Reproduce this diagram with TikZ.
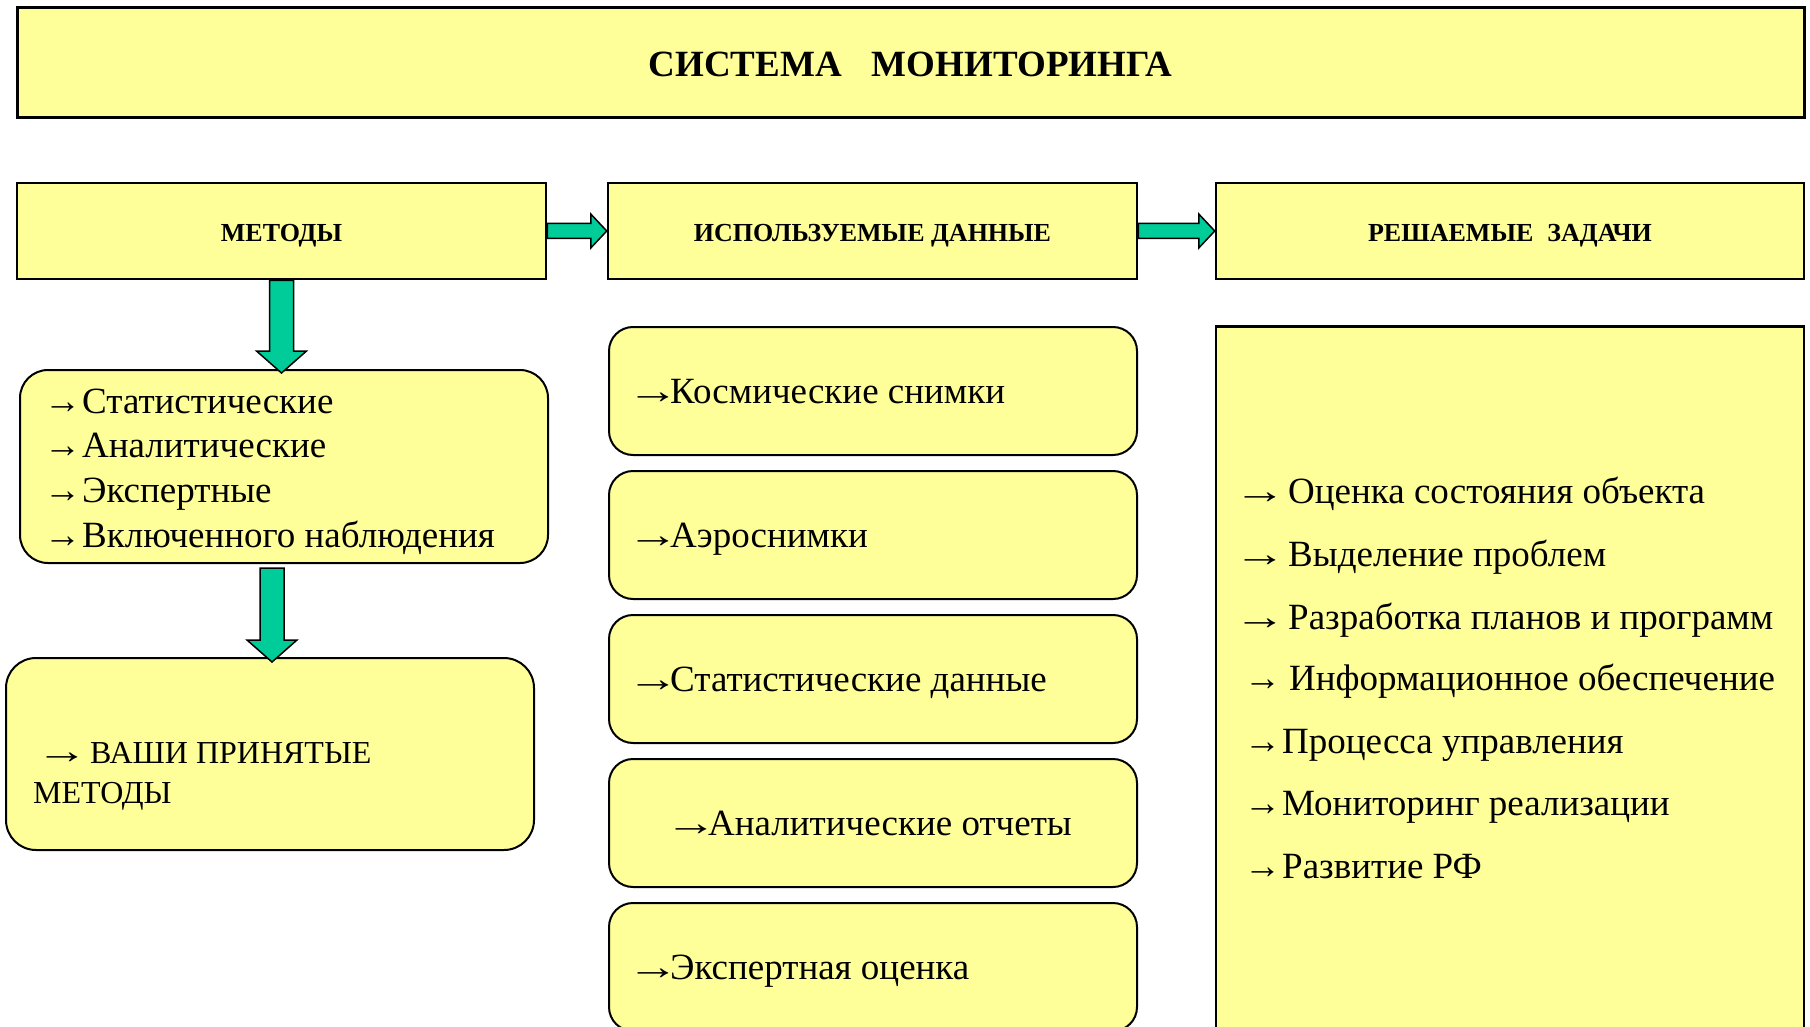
\documentclass[tikz,border=0pt]{standalone}
\usepackage{fontspec}
\usepackage{graphicx}
\setmainfont{Liberation Serif}
\usetikzlibrary{calc}
\definecolor{boxyellow}{RGB}{255,255,153}
\definecolor{arrgreen}{RGB}{0,204,153}
\newcommand\barr{{\fontsize{37}{44}\selectfont\scalebox{1.4}[1]{→}}}
\newcommand\harr[2]{\draw[blk] let \p1=(#1), \p2=(#2) in (\x1,\y1-7.5pt) -- (\x2-16pt,\y1-7.5pt) -- (\x2-16pt,\y1-17pt) -- (\x2,\y1) -- (\x2-16pt,\y1+17pt) -- (\x2-16pt,\y1+7.5pt) -- (\x1,\y1+7.5pt) -- cycle;}
\newcommand\varr[2]{\draw[blk] let \p1=(#1), \p2=(#2) in (\x2-12pt,\y1) -- (\x2-12pt,\y2+22pt) -- (\x2-25pt,\y2+22pt) -- (\x2,\y2) -- (\x2+25pt,\y2+22pt) -- (\x2+12pt,\y2+22pt) -- (\x2+12pt,\y1) -- cycle;}
\begin{document}
\begin{tikzpicture}[x=1pt,y=-1pt,
  hdr/.style={draw, line width=2.5pt, fill=boxyellow, inner sep=0pt, text height=20pt, text depth=0pt, font=\bfseries\fontsize{26}{30}\selectfont},
  rbox/.style={draw, line width=2pt, fill=boxyellow, inner sep=0pt, rounded corners=24pt, minimum width=528pt},
  ltxt/.style={anchor=base west, inner sep=0pt, font=\fontsize{37}{44}\selectfont},
  blk/.style={draw=black, line width=1.5pt, fill=arrgreen, line join=miter},
]
\clip (0,0) rectangle (1810,1027);
\fill[white] (0,0) rectangle (1810,1027);

% title
\node[hdr, line width=3pt, minimum width=1787pt, minimum height=110pt, text height=27pt, font=\bfseries\fontsize{37}{44}\selectfont] (title) at (910.5,63) {СИСТЕМА\hspace{30pt}МОНИТОРИНГА};

% headers
\node[hdr, minimum width=529pt, minimum height=96pt] (meth) at (281.5,231) {МЕТОДЫ};
\node[hdr, minimum width=529pt, minimum height=96pt] (dat) at (872.5,231) {ИСПОЛЬЗУЕМЫЕ ДАННЫЕ};
\node[hdr, minimum width=588pt, minimum height=96pt] (task) at (1510,231) {РЕШАЕМЫЕ\hspace{14pt}ЗАДАЧИ};

% methods list
\node[rbox, minimum height=193pt, rounded corners=28pt] (mlist) at (284,466.5) {};
\node[ltxt] (m1) at (44,413) {\makebox[38pt][l]{→}Статистические};
\node[ltxt] (m2) at (44,457) {\makebox[38pt][l]{→}Аналитические};
\node[ltxt] (m3) at (44,502) {\makebox[38pt][l]{→}Экспертные};
\node[ltxt] (m4) at (44,547) {\makebox[38pt][l]{→}Включенного наблюдения};

% your methods
\node[rbox, minimum height=192pt, rounded corners=30pt] (vash) at (270,754) {};
\node[anchor=base west, inner sep=0pt, font=\fontsize{32}{40}\selectfont] (v1) at (36,763) {\makebox[54pt][l]{\barr}ВАШИ ПРИНЯТЫЕ};
\node[anchor=base west, inner sep=0pt, font=\fontsize{32}{40}\selectfont] (v2) at (33,803) {МЕТОДЫ};

% data boxes
\node[rbox, minimum height=128pt] (d1) at (873,391) {};
\node[rbox, minimum height=128pt] (d2) at (873,535) {};
\node[rbox, minimum height=128pt] (d3) at (873,679) {};
\node[rbox, minimum height=128pt] (d4) at (873,823) {};
\node[rbox, minimum height=128pt] (d5) at (873,967) {};
\node[ltxt] (t1) at (627,403) {\makebox[43pt][l]{\barr}Космические снимки};
\node[ltxt] (t2) at (627,547) {\makebox[43pt][l]{\barr}Аэроснимки};
\node[ltxt] (t3) at (627,691) {\makebox[43pt][l]{\barr}Статистические данные};
\node[ltxt] (t4) at (665,835) {\makebox[43pt][l]{\barr}Аналитические отчеты};
\node[ltxt] (t5) at (627,979) {\makebox[43pt][l]{\barr}Экспертная оценка};

% tasks box
\node[draw, line width=2.5pt, fill=boxyellow, minimum width=588pt, minimum height=720pt, anchor=north, inner sep=0pt] (tbox) at (1510,325) {};
\node[ltxt] (k1) at (1234,503) {\makebox[54pt][l]{\barr}Оценка состояния объекта};
\node[ltxt] (k2) at (1234,566) {\makebox[54pt][l]{\barr}Выделение проблем};
\node[ltxt] (k3) at (1234,629) {\makebox[54pt][l]{\barr}Разработка планов и программ};
\node[ltxt] (k4) at (1244,690) {\makebox[45pt][l]{→}Информационное обеспечение};
\node[ltxt] (k5) at (1244,753) {\makebox[38pt][l]{→}Процесса управления};
\node[ltxt] (k6) at (1244,815) {\makebox[38pt][l]{→}Мониторинг реализации};
\node[ltxt] (k7) at (1244,878) {\makebox[38pt][l]{→}Развитие РФ};

% block arrows
\harr{meth.east}{dat.west}
\harr{dat.east}{task.west}
\varr{meth.south}{$(meth.south |- mlist.north)+(0,4)$}
\varr{$(mlist.south)+(0,4)$}{$(vash.north)+(2,5)$}
\end{tikzpicture}
\end{document}
